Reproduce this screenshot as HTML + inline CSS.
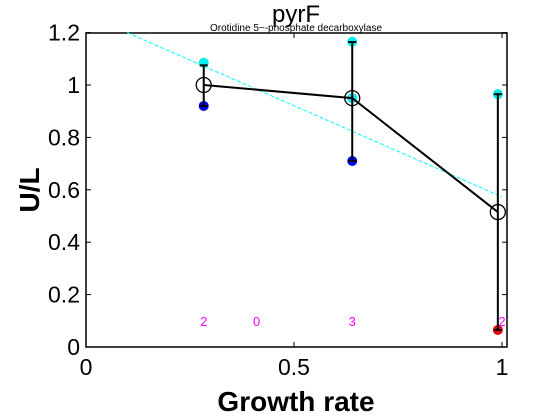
<!DOCTYPE html>
<html><head><meta charset="utf-8"><style>body{margin:0;background:#fff}svg{display:block;font-family:"Liberation Sans",sans-serif}</style></head>
<body>
<svg id="c" width="560" height="420"></svg>
<script>
const xs=[0.283,0.64,0.99];
const means=[1.0,0.95,0.515];
const errLo=[0.92,0.71,0.065];
const errHi=[1.075,1.164,0.965];
const cyanPts=[[0.283,1.085],[0.64,1.165],[0.64,0.95],[0.99,0.965]];
const bluePts=[[0.283,0.92],[0.64,0.71]];
const redPts=[[0.99,0.065]];
const fitLine=[[0.099,1.2],[1.0,0.573]];
const countX=[0.283,0.41,0.64,1.0];
const countLabels=["2","0","3","2"];
const xTicks=[0,0.5,1],xTickLabels=["0","0.5","1"];
const yTicks=[0,0.2,0.4,0.6,0.8,1,1.2],yTickLabels=["0","0.2","0.4","0.6","0.8","1","1.2"];
const L=86,R=507,T=33,B=347;
const X=v=>86+v*416, Y=v=>347-v*262;
const s=document.getElementById('c');const NS="http://www.w3.org/2000/svg";
function add(tag,a,name,txt){const e=document.createElementNS(NS,tag);for(const k in a)e.setAttribute(k,a[k]);


if(txt!==undefined)e.textContent=txt;s.appendChild(e);return e;}
add('rect',{x:L,y:T,width:R-L,height:B-T,fill:'#fff',stroke:'#000','stroke-width':1.5},'plot-area');
xTicks.forEach((t,i)=>{add('line',{x1:X(t),x2:X(t),y1:B,y2:B-5,stroke:'#000'},'x-tick');add('line',{x1:X(t),x2:X(t),y1:T,y2:T+5,stroke:'#000'},'x-tick-top');
add('text',{x:X(t),y:B+28,'font-size':23,'text-anchor':'middle'},'x-tick-label',xTickLabels[i]);});
yTicks.forEach((t,i)=>{add('line',{x1:L,x2:L+5,y1:Y(t),y2:Y(t),stroke:'#000'},'y-tick');add('line',{x1:R,x2:R-5,y1:Y(t),y2:Y(t),stroke:'#000'},'y-tick-right');
add('text',{x:L-6,y:Y(t)+8,'font-size':23,'text-anchor':'end'},'y-tick-label',yTickLabels[i]);});
add('line',{x1:X(fitLine[0][0]),y1:Y(fitLine[0][1]),x2:X(fitLine[1][0]),y2:Y(fitLine[1][1]),stroke:'#0ff','stroke-dasharray':'4,2'},'fit-line');
cyanPts.forEach(p=>add('circle',{cx:X(p[0]),cy:Y(p[1]),r:5,fill:'#0ee'},'replicate-point-cyan'));
bluePts.forEach(p=>add('circle',{cx:X(p[0]),cy:Y(p[1]),r:5,fill:'#00e'},'replicate-point-blue'));
redPts.forEach(p=>add('circle',{cx:X(p[0]),cy:Y(p[1]),r:5,fill:'#e00'},'replicate-point-red'));
xs.forEach((x,i)=>{add('line',{x1:X(x),x2:X(x),y1:Y(errLo[i]),y2:Y(errHi[i]),stroke:'#000','stroke-width':2},'error-bar');
[errLo[i],errHi[i]].forEach(v=>add('line',{x1:X(x)-4,x2:X(x)+4,y1:Y(v),y2:Y(v),stroke:'#000','stroke-width':2},'error-cap'));});
add('polyline',{points:xs.map((x,i)=>X(x)+','+Y(means[i])).join(' '),fill:'none',stroke:'#000','stroke-width':2},'mean-line');
xs.forEach((x,i)=>add('circle',{cx:X(x),cy:Y(means[i]),r:7.5,fill:'none',stroke:'#000','stroke-width':1.3},'mean-marker'));
countX.forEach((x,i)=>add('text',{x:X(x),y:Y(0.1)+5,'font-size':13,fill:'#f0f','text-anchor':'middle'},'count-label',countLabels[i]));
add('text',{x:296,y:22,'font-size':24,'text-anchor':'middle'},'chart-title','pyrF');
add('text',{x:296,y:31,'font-size':10,'text-anchor':'middle'},'chart-subtitle','Orotidine 5~-phosphate decarboxylase');
add('text',{x:296,y:411,'font-size':28,'font-weight':'bold','text-anchor':'middle'},'x-axis-title','Growth rate');
add('text',{x:0,y:0,'font-size':28,'font-weight':'bold','text-anchor':'middle',transform:'translate(39,190) rotate(-90)'},'y-axis-title','U/L');
</script>
</body></html>
